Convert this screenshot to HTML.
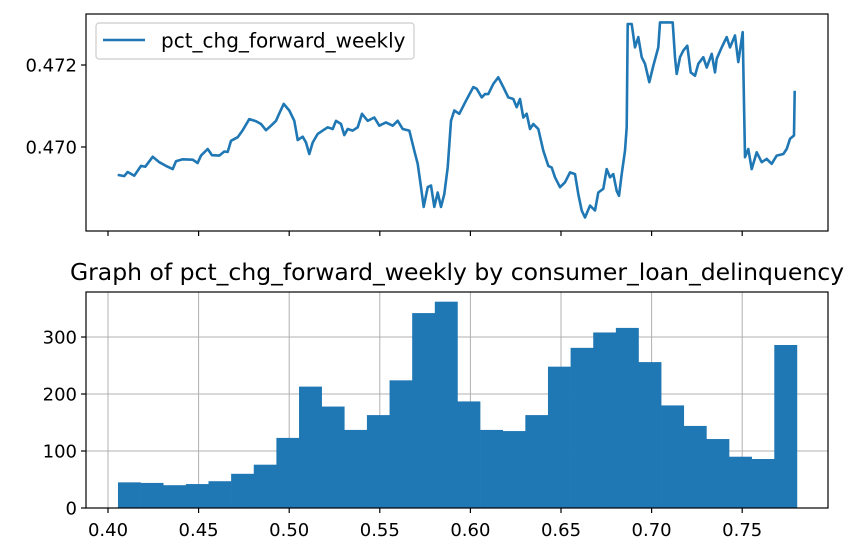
<!DOCTYPE html>
<html><head><meta charset="utf-8"><style>
body{margin:0;background:#fff;}
svg{display:block;font-family:"DejaVu Sans","Liberation Sans",sans-serif;}
</style></head><body>
<svg id="chart" width="866" height="554" viewBox="0 0 866 554" xmlns="http://www.w3.org/2000/svg"></svg>
<script>
const lineX=[0.40533,0.40901,0.41087,0.41453,0.41821,0.42061,0.42465,0.42833,0.43201,0.43568,0.43753,0.44120,0.44672,0.44947,0.45132,0.45500,0.45740,0.46144,0.46420,0.46604,0.46788,0.47156,0.47432,0.47800,0.48168,0.48444,0.48720,0.48996,0.49272,0.49456,0.49696,0.50006,0.50282,0.50467,0.50743,0.50927,0.51111,0.51295,0.51571,0.51847,0.52123,0.52399,0.52583,0.52859,0.53043,0.53227,0.53503,0.53779,0.54018,0.54331,0.54699,0.54975,0.55342,0.55710,0.55986,0.56262,0.56630,0.56906,0.57091,0.57274,0.57423,0.57644,0.57826,0.58010,0.58196,0.58377,0.58560,0.58748,0.58929,0.59112,0.59388,0.59757,
0.60162,0.60346,0.60622,0.60806,0.60990,0.61265,0.61541,0.61817,0.62093,0.62369,0.62553,0.62737,0.62921,0.63105,0.63289,0.63473,0.63749,0.64025,0.64301,0.64485,0.64669,0.64945,0.65221,0.65497,0.65772,0.65956,0.66140,0.66324,0.66600,0.66876,0.67060,0.67336,0.67520,0.67704,0.67888,0.68072,0.68201,0.68348,0.68532,0.68624,0.68679,0.68900,0.69084,0.69268,0.69452,0.69636,0.69875,0.70096,0.70372,0.70464,0.71163,0.71291,0.71383,0.71567,0.71751,0.71972,0.72156,0.72395,0.72579,0.72855,0.73039,0.73315,0.73499,0.73591,0.73867,0.74143,0.74327,0.74602,0.74786,0.75026,0.75154,0.75338,0.75522,0.75798,0.76074,0.76350,0.76626,0.76902,0.77270,0.77454,0.77638,0.77858,0.77895];
const lineY=[0.46932,0.46929,0.46939,0.46930,0.46954,0.46952,0.46976,0.46963,0.46954,0.46946,0.46965,0.46970,0.46969,0.46961,0.46979,0.46995,0.46980,0.46979,0.46989,0.46988,0.47015,0.47024,0.47041,0.47068,0.47063,0.47056,0.47041,0.47052,0.47064,0.47082,0.47105,0.47089,0.47064,0.47017,0.47025,0.47011,0.46983,0.47011,0.47032,0.47040,0.47048,0.47044,0.47064,0.47056,0.47029,0.47044,0.47040,0.47048,0.47081,0.47064,0.47072,0.47052,0.47060,0.47052,0.47064,0.47044,0.47040,0.46991,0.46959,0.46902,0.46854,0.46902,0.46906,0.46854,0.46889,0.46854,0.46885,0.46950,0.47064,0.47089,0.47081,0.47113,
0.47146,0.47142,0.47121,0.47129,0.47129,0.47154,0.47170,0.47146,0.47121,0.47117,0.47097,0.47117,0.47072,0.47081,0.47044,0.47056,0.47044,0.46991,0.46954,0.46950,0.46926,0.46902,0.46914,0.46938,0.46934,0.46885,0.46845,0.46828,0.46857,0.46845,0.46889,0.46898,0.46946,0.46926,0.46934,0.46893,0.46881,0.46934,0.46991,0.47048,0.47300,0.47300,0.47243,0.47268,0.47219,0.47203,0.47158,0.47198,0.47243,0.47304,0.47304,0.47219,0.47178,0.47219,0.47235,0.47247,0.47182,0.47174,0.47203,0.47219,0.47194,0.47227,0.47182,0.47215,0.47243,0.47268,0.47243,0.47272,0.47207,0.47280,0.46975,0.46995,0.46946,0.46987,0.46963,0.46971,0.46959,0.46979,0.46983,0.46995,0.47020,0.47028,0.47137];
const histStart=0.4055, histEnd=0.7802;
const histCounts=[45,44,40,42,47,60,76,123,213,178,137,163,224,342,362,187,137,135,163,248,281,308,316,256,180,144,121,90,86,286];
const xTicks=[0.40,0.45,0.50,0.55,0.60,0.65,0.70,0.75];
const xTickLabels=["0.40","0.45","0.50","0.55","0.60","0.65","0.70","0.75"];
const topYTicks=[0.470,0.472];
const topYTickLabels=["0.470","0.472"];
const botYTicks=[0,100,200,300];
const botYTickLabels=["0","100","200","300"];

const NS="http://www.w3.org/2000/svg";
const svg=document.getElementById('chart');
function mk(tag,attrs,parent){const e=document.createElementNS(NS,tag);for(const k in attrs)e.setAttribute(k,attrs[k]);(parent||svg).appendChild(e);return e;}
const L=86,R=828;
const xMin=0.40-22/1812,xMax=0.40+720/1812;
const sx=v=>L+(v-xMin)/(xMax-xMin)*(R-L);
const T1=14,B1=231,tyMin=0.470-84/41000,tyMax=0.470+133/41000;
const sy1=v=>B1-(v-tyMin)/(tyMax-tyMin)*(B1-T1);
const T2=292,B2=508,byMax=379;
const sy2=v=>B2-v/byMax*(B2-T2);

const grid=mk('g',{});


xTicks.forEach(t=>{mk('line',{x1:sx(t),x2:sx(t),y1:T2,y2:B2,stroke:'#b0b0b0','stroke-width':1},grid);});
botYTicks.forEach(t=>{mk('line',{x1:L,x2:R,y1:sy2(t),y2:sy2(t),stroke:'#b0b0b0','stroke-width':1},grid);});

const bw=(histEnd-histStart)/histCounts.length;
histCounts.forEach((c,i)=>{
  const x0=sx(histStart+i*bw),x1=sx(histStart+(i+1)*bw);
  const r=mk('rect',{x:x0,y:sy2(c),width:x1-x0+0.3,height:sy2(0)-sy2(c),fill:'#1f77b4'});
  
  
});

const clip=mk('clipPath',{id:'c1'});mk('rect',{x:L,y:T1,width:R-L,height:B1-T1},clip);
const pts=lineX.map((x,i)=>sx(x).toFixed(1)+','+sy1(lineY[i]).toFixed(1)).join(' ');
const pl=mk('polyline',{points:pts,fill:'none',stroke:'#1f77b4','stroke-width':2.6,'stroke-linejoin':'round','clip-path':'url(#c1)'});



[[T1,B1,'top-axes-frame'],[T2,B2,'bottom-axes-frame']].forEach(([t,b,n])=>{
  const r=mk('rect',{x:L,y:t,width:R-L,height:b-t,fill:'none',stroke:'#000','stroke-width':1.2});
  
  
});

xTicks.forEach((t,i)=>{
  mk('line',{x1:sx(t),x2:sx(t),y1:B1,y2:B1+5,stroke:'#000','stroke-width':1.2});
  mk('line',{x1:sx(t),x2:sx(t),y1:B2,y2:B2+5,stroke:'#000','stroke-width':1.2});
  const tx=mk('text',{x:sx(t),y:B2+28,'text-anchor':'middle','font-size':18});
  tx.textContent=xTickLabels[i];
  
  
});
topYTicks.forEach((t,i)=>{
  mk('line',{x1:L-5,x2:L,y1:sy1(t),y2:sy1(t),stroke:'#000','stroke-width':1.2});
  const tx=mk('text',{x:L-9,y:sy1(t)+6.5,'text-anchor':'end','font-size':18});
  tx.textContent=topYTickLabels[i];
  
  
});
botYTicks.forEach((t,i)=>{
  mk('line',{x1:L-5,x2:L,y1:sy2(t),y2:sy2(t),stroke:'#000','stroke-width':1.2});
  const tx=mk('text',{x:L-9,y:sy2(t)+6.5,'text-anchor':'end','font-size':18});
  tx.textContent=botYTickLabels[i];
  
  
});

const title=mk('text',{x:(L+R)/2+0,y:280,'text-anchor':'middle','font-size':23.5});
title.textContent='Graph of pct_chg_forward_weekly by consumer_loan_delinquency';



const lg=mk('g',{});


mk('rect',{x:96,y:23,width:318,height:36,rx:3,fill:'#fff','fill-opacity':0.8,stroke:'#ccc','stroke-width':1.2},lg);
mk('line',{x1:103,x2:145,y1:40,y2:40,stroke:'#1f77b4','stroke-width':2.6},lg);
const lt=mk('text',{x:161,y:47.5,'font-size':20},lg);
lt.textContent='pct_chg_forward_weekly';


</script>
</body></html>
